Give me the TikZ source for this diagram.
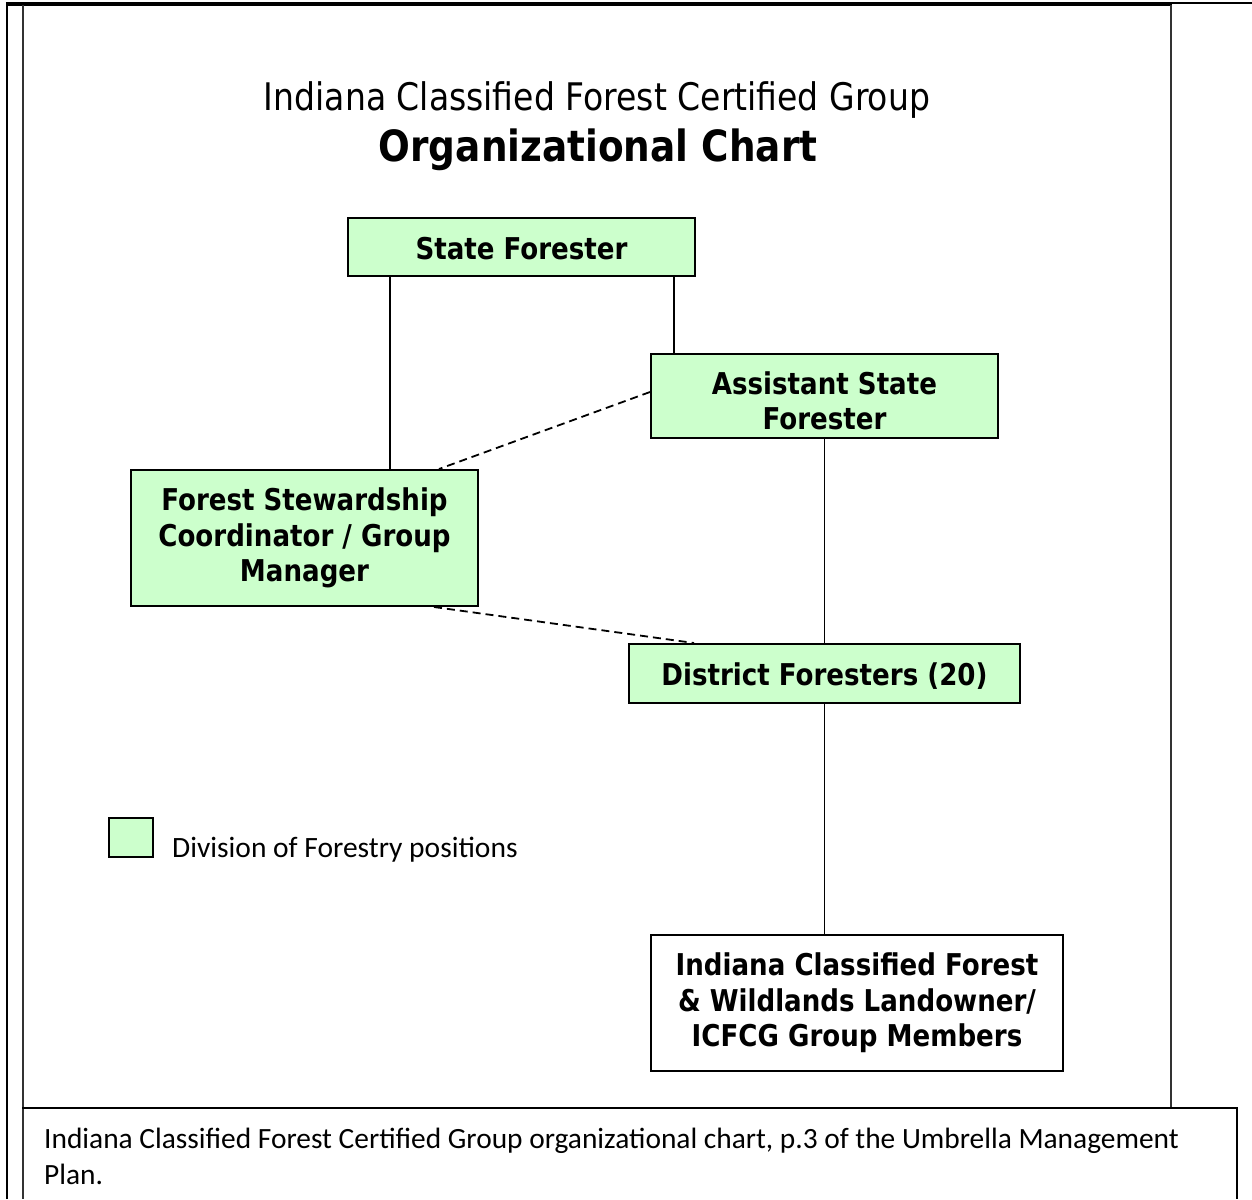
\documentclass[tikz,border=0pt]{standalone}
\usepackage{fontspec}
\setmainfont{Carlito}
\newfontfamily\tahreg[FakeStretch=0.87]{DejaVu Sans}
\newfontfamily\tahbold[FakeStretch=0.87]{DejaVu Sans Bold}
\usetikzlibrary{calc}
\definecolor{posgreen}{HTML}{CCFFCC}
\tikzset{
  posbox/.style={draw=black, fill=posgreen, line width=2pt, inner sep=0pt, align=center,
    font=\tahbold\fontsize{30}{35.5}\selectfont},
  memberbox/.style={posbox, fill=white},
  connline/.style={line width=1.8pt, black},
  dconnline/.style={connline, dash pattern=on 8pt off 5pt},
}
\newcommand{\lowered}[2]{\raisebox{-#1}[\height][\depth]{#2}}
\begin{document}
\begin{tikzpicture}[x=1pt, y=-1pt]
\useasboundingbox (0,0) rectangle (1252,1199);
% frame
\draw[line width=2.5pt] (7,1199) -- (7,4);
\draw[line width=3.5pt] (5.75,4) -- (1172,4);
\draw[line width=2pt] (1172,3.5) -- (1252,3.5);
\draw[line width=2.4pt, black!80] (23,5) -- (23,1199);
\draw[line width=2.4pt, black!80] (1171,5) -- (1171,1108);
\draw[line width=1.8pt] (22,1108) -- (1237,1108) -- (1237,1199);
% title
\node (t1) at (597,100) {\tahreg\fontsize{38}{40}\selectfont Indiana Classified Forest Certified Group};
\node (t2) at (598,150) {\tahbold\fontsize{43}{45}\selectfont Organizational Chart};
% boxes
\node[posbox, minimum width=347pt, minimum height=58pt] (sf) at (521.5,247) {\lowered{2pt}{State Forester}};
\node[posbox, minimum width=347pt, minimum height=84pt] (asf) at (824.5,396) {\lowered{9pt}{\begin{tabular}{@{}c@{}}Assistant State\\Forester\end{tabular}}};
\node[posbox, minimum width=347pt, minimum height=136pt] (fsc) at (304.5,538) {Forest Stewardship\\Coordinator / Group\\Manager};
\node[posbox, minimum width=391pt, minimum height=59pt] (dfo) at (824.5,673.5) {\lowered{3pt}{District Foresters (20)}};
\node[memberbox, minimum width=412pt, minimum height=136pt] (icf) at (857,1003) {Indiana Classified Forest\\\& Wildlands Landowner/\\ICFCG Group Members};
% connectors
\coordinate (p1) at ($(sf.south west)+(43,0)$);
\draw[connline] (p1) -- (p1 |- fsc.north);
\coordinate (p2) at ($(sf.south east)+(-22,0)$);
\draw[connline] (p2) -- (p2 |- asf.north);
\draw[dconnline] ($(asf.west)+(0,-4)$) -- ($(fsc.north west)+(309,0)$);
\draw[connline] (asf.south) -- (dfo.north);
\draw[dconnline] ($(fsc.south west)+(304,0)$) -- ($(dfo.north west)+(66,0)$);
\draw[connline] (dfo.south) -- (dfo.south |- icf.north);
% legend
\node[draw=black, fill=posgreen, line width=2pt, minimum width=44pt, minimum height=39pt, inner sep=0pt] (leg) at (131,837.5) {};
\node[anchor=west, font=\fontsize{29.5}{32}\selectfont, inner sep=0pt] (legt) at (172,850) {Division of Forestry positions};
% caption
\node[anchor=north west, align=left, inner sep=0pt, font=\fontsize{29.4}{36}\selectfont] (cap) at (44,1128) {Indiana Classified Forest Certified Group organizational chart, p.3 of the Umbrella Management\\Plan.};
\end{tikzpicture}
\end{document}
